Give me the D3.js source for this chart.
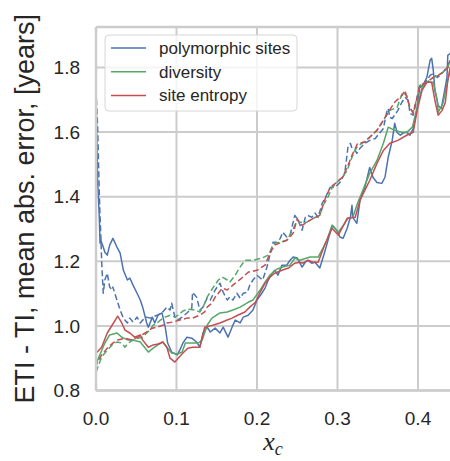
<!DOCTYPE html>
<html>
<head>
<meta charset="utf-8">
<script src="https://cdn.jsdelivr.net/npm/d3@7"></script>
<style>
    html, body { margin: 0; padding: 0; background: #ffffff; }
    svg { display: block; }
</style>
</head>
<body>
<div id="chart"></div>
<script>
// x_c vs. mean abs. error
const polySitesSolid = [[0.000,1.729],[0.002,1.45],[0.004,1.343],[0.005,1.256],[0.006,1.265],[0.009,1.244],[0.011,1.228],[0.014,1.219],[0.017,1.250],[0.021,1.271],[0.026,1.244],[0.030,1.225],[0.034,1.172],[0.039,1.142],[0.042,1.148],[0.046,1.126],[0.051,1.101],[0.055,1.080],[0.058,1.058],[0.063,1.009],[0.065,0.996],[0.070,1.027],[0.073,1.009],[0.077,1.033],[0.082,1.040],[0.086,0.996],[0.089,0.947],[0.094,0.919],[0.101,0.910],[0.104,0.925],[0.108,0.947],[0.113,0.965],[0.119,0.962],[0.125,0.950],[0.129,0.934],[0.133,0.978],[0.138,0.996],[0.142,0.981],[0.148,0.993],[0.154,0.978],[0.158,0.996],[0.164,0.965],[0.169,0.996],[0.173,1.018],[0.179,1.009],[0.183,1.027],[0.189,1.033],[0.195,1.049],[0.200,1.080],[0.206,1.101],[0.210,1.117],[0.214,1.142],[0.219,1.163],[0.222,1.172],[0.226,1.157],[0.231,1.188],[0.237,1.188],[0.241,1.203],[0.245,1.213],[0.250,1.210],[0.256,1.182],[0.260,1.197],[0.263,1.203],[0.268,1.194],[0.272,1.197],[0.278,1.179],[0.281,1.203],[0.284,1.228],[0.291,1.290],[0.294,1.311],[0.299,1.296],[0.303,1.275],[0.307,1.271],[0.312,1.302],[0.316,1.336],[0.318,1.373],[0.319,1.336],[0.324,1.317],[0.328,1.389],[0.334,1.429],[0.340,1.490],[0.344,1.460],[0.349,1.444],[0.355,1.441],[0.359,1.460],[0.363,1.522],[0.368,1.574],[0.371,1.627],[0.374,1.599],[0.378,1.590],[0.381,1.596],[0.386,1.599],[0.390,1.590],[0.394,1.611],[0.399,1.676],[0.402,1.738],[0.406,1.744],[0.411,1.769],[0.415,1.822],[0.417,1.828],[0.419,1.791],[0.421,1.729],[0.425,1.682],[0.429,1.673],[0.432,1.713],[0.436,1.769],[0.437,1.837],[0.440,1.843]];

const polySitesDashed = [[0.000,1.729],[0.002,1.62],[0.004,1.42],[0.005,1.34],[0.006,1.28],[0.007,1.20],[0.009,1.101],[0.011,1.142],[0.014,1.163],[0.017,1.120],[0.020,1.111],[0.021,1.120],[0.026,1.080],[0.030,1.049],[0.034,1.024],[0.039,1.009],[0.042,1.024],[0.046,1.012],[0.051,1.027],[0.055,1.009],[0.058,1.018],[0.063,1.027],[0.067,1.024],[0.076,1.033],[0.082,1.040],[0.088,1.058],[0.092,1.049],[0.094,1.070],[0.098,1.027],[0.101,1.018],[0.107,1.027],[0.113,1.040],[0.119,1.055],[0.120,1.104],[0.125,1.089],[0.129,1.049],[0.133,1.058],[0.138,1.086],[0.142,1.080],[0.148,1.111],[0.154,1.132],[0.158,1.104],[0.163,1.080],[0.166,1.089],[0.170,1.080],[0.175,1.101],[0.179,1.086],[0.183,1.101],[0.188,1.104],[0.191,1.126],[0.195,1.142],[0.200,1.157],[0.204,1.148],[0.207,1.142],[0.212,1.179],[0.216,1.219],[0.220,1.259],[0.225,1.259],[0.229,1.271],[0.232,1.290],[0.237,1.275],[0.241,1.281],[0.247,1.342],[0.251,1.327],[0.256,1.296],[0.260,1.336],[0.263,1.342],[0.268,1.336],[0.272,1.349],[0.276,1.336],[0.281,1.380],[0.284,1.392],[0.291,1.429],[0.297,1.429],[0.303,1.444],[0.309,1.472],[0.313,1.553],[0.316,1.565],[0.318,1.550],[0.322,1.543],[0.324,1.534],[0.328,1.550],[0.334,1.565],[0.340,1.574],[0.347,1.580],[0.350,1.590],[0.357,1.611],[0.361,1.661],[0.363,1.673],[0.365,1.645],[0.368,1.642],[0.371,1.652],[0.375,1.667],[0.380,1.692],[0.384,1.707],[0.388,1.698],[0.390,1.658],[0.394,1.652],[0.399,1.707],[0.402,1.738],[0.406,1.744],[0.411,1.760],[0.415,1.775],[0.419,1.781],[0.424,1.769],[0.427,1.775],[0.431,1.785],[0.436,1.800],[0.440,1.822]];

const diversitySolid = [[0.000,0.879],[0.002,0.894],[0.011,0.947],[0.017,0.972],[0.026,0.978],[0.032,0.965],[0.040,0.956],[0.046,0.956],[0.055,0.950],[0.065,0.919],[0.071,0.931],[0.077,0.941],[0.083,0.950],[0.088,0.934],[0.094,0.916],[0.101,0.913],[0.107,0.919],[0.111,0.947],[0.117,0.947],[0.127,0.947],[0.132,0.956],[0.138,1.002],[0.144,1.024],[0.154,1.040],[0.163,1.043],[0.170,1.049],[0.179,1.058],[0.189,1.073],[0.195,1.080],[0.204,1.111],[0.210,1.135],[0.216,1.157],[0.225,1.176],[0.232,1.182],[0.241,1.188],[0.247,1.210],[0.253,1.203],[0.262,1.210],[0.266,1.213],[0.276,1.213],[0.287,1.265],[0.293,1.311],[0.301,1.290],[0.309,1.317],[0.313,1.333],[0.319,1.336],[0.325,1.380],[0.340,1.472],[0.349,1.512],[0.357,1.565],[0.363,1.615],[0.371,1.605],[0.380,1.599],[0.386,1.599],[0.393,1.615],[0.399,1.676],[0.405,1.738],[0.411,1.754],[0.419,1.754],[0.424,1.698],[0.425,1.661],[0.431,1.689],[0.437,1.760],[0.440,1.791]];

const diversityDashed = [[0.000,0.857],[0.001,0.863],[0.007,0.904],[0.014,0.925],[0.020,0.941],[0.026,0.950],[0.032,0.947],[0.036,0.934],[0.040,0.947],[0.046,0.956],[0.052,0.962],[0.058,0.965],[0.063,0.978],[0.067,0.987],[0.071,1.002],[0.076,1.009],[0.080,1.018],[0.086,1.027],[0.092,1.033],[0.098,1.027],[0.102,1.033],[0.108,1.046],[0.114,1.052],[0.123,1.049],[0.129,1.043],[0.133,1.058],[0.138,1.089],[0.145,1.117],[0.152,1.142],[0.157,1.151],[0.163,1.142],[0.166,1.135],[0.173,1.157],[0.179,1.182],[0.185,1.203],[0.195,1.203],[0.206,1.210],[0.214,1.219],[0.219,1.244],[0.222,1.256],[0.229,1.259],[0.237,1.265],[0.243,1.290],[0.250,1.327],[0.253,1.321],[0.262,1.321],[0.270,1.333],[0.278,1.342],[0.282,1.373],[0.287,1.392],[0.293,1.426],[0.299,1.444],[0.306,1.460],[0.312,1.481],[0.318,1.522],[0.324,1.553],[0.330,1.565],[0.340,1.584],[0.349,1.605],[0.359,1.645],[0.365,1.667],[0.374,1.676],[0.381,1.723],[0.386,1.713],[0.390,1.676],[0.394,1.661],[0.399,1.707],[0.402,1.744],[0.411,1.754],[0.419,1.769],[0.425,1.775],[0.431,1.785],[0.437,1.800],[0.440,1.822]];

const siteEntropySolid = [[0.000,0.915],[0.007,0.934],[0.014,0.978],[0.020,1.002],[0.027,1.030],[0.032,1.009],[0.036,0.987],[0.042,0.978],[0.048,0.965],[0.055,0.972],[0.058,0.956],[0.065,0.934],[0.071,0.941],[0.077,0.944],[0.083,0.950],[0.088,0.934],[0.092,0.900],[0.098,0.888],[0.102,0.900],[0.108,0.916],[0.114,0.931],[0.120,0.934],[0.129,0.934],[0.135,0.996],[0.145,1.002],[0.154,1.009],[0.163,1.018],[0.169,1.024],[0.176,1.033],[0.185,1.043],[0.191,1.058],[0.198,1.073],[0.204,1.104],[0.210,1.132],[0.216,1.151],[0.222,1.163],[0.231,1.172],[0.239,1.179],[0.247,1.194],[0.253,1.197],[0.257,1.194],[0.263,1.203],[0.270,1.197],[0.276,1.197],[0.284,1.250],[0.293,1.302],[0.301,1.281],[0.312,1.333],[0.322,1.336],[0.328,1.389],[0.340,1.450],[0.349,1.503],[0.357,1.543],[0.365,1.565],[0.375,1.574],[0.386,1.590],[0.394,1.599],[0.399,1.667],[0.405,1.729],[0.411,1.754],[0.417,1.754],[0.421,1.698],[0.425,1.652],[0.430,1.667],[0.434,1.692],[0.437,1.760],[0.440,1.800]];

const siteEntropyDashed = [[0.000,0.870],[0.001,0.885],[0.007,0.910],[0.015,0.934],[0.021,0.947],[0.027,0.956],[0.036,0.962],[0.045,0.956],[0.052,0.965],[0.061,0.978],[0.070,0.993],[0.076,0.996],[0.083,1.002],[0.088,1.009],[0.096,1.012],[0.104,1.018],[0.113,1.024],[0.120,1.024],[0.129,1.033],[0.135,1.043],[0.138,1.058],[0.144,1.070],[0.148,1.089],[0.152,1.101],[0.157,1.117],[0.163,1.111],[0.170,1.126],[0.181,1.148],[0.189,1.166],[0.200,1.172],[0.210,1.188],[0.216,1.225],[0.222,1.250],[0.231,1.259],[0.237,1.265],[0.241,1.275],[0.245,1.287],[0.250,1.333],[0.251,1.327],[0.256,1.311],[0.262,1.321],[0.270,1.333],[0.278,1.342],[0.284,1.389],[0.291,1.429],[0.299,1.444],[0.306,1.460],[0.312,1.490],[0.318,1.528],[0.325,1.565],[0.334,1.568],[0.340,1.584],[0.349,1.605],[0.357,1.636],[0.363,1.661],[0.371,1.692],[0.380,1.713],[0.384,1.729],[0.386,1.707],[0.390,1.676],[0.394,1.658],[0.399,1.707],[0.402,1.744],[0.411,1.754],[0.419,1.769],[0.425,1.775],[0.431,1.785],[0.437,1.800],[0.440,1.822]];

const legendLabels = ["polymorphic sites", "diversity", "site entropy"];
const seriesColors = ["#4c72b0", "#55a868", "#c44e52"];
const xTicks = [0.0, 0.1, 0.2, 0.3, 0.4];
const yTicks = [0.8, 1.0, 1.2, 1.4, 1.6, 1.8];
const xDomain = [0, 0.445];
const yDomain = [0.8, 1.925];

class ErrorChart {
    constructor(proportions) {
        this.proportions = proportions;
        this.#createScales();
        this.#createSVG();
        this.#drawGrid();
        this.#drawLines();
        this.#drawSpines();
        this.#drawTickLabels();
        this.#drawAxisLabels();
        this.#drawLegend();
    }
    #createScales() {
        const p = this.proportions;
        this.x = d3.scaleLinear().domain(xDomain).range([p.left, p.left + p.plotWidth]);
        this.y = d3.scaleLinear().domain(yDomain).range([p.bottom, p.top]);
    }
    #createSVG() {
        this.svg = d3.select('#chart').append("svg")
            .attr("width", this.proportions.width)
            .attr("height", this.proportions.height);
        this.svg.append("clipPath").attr("id", "plot-clip")
            .append("rect")
            .attr("x", this.x.range()[0])
            .attr("y", this.proportions.top)
            .attr("width", this.x.range()[1] - this.x.range()[0])
            .attr("height", this.proportions.bottom - this.proportions.top);
    }
    #drawGrid() {
        const g = this.svg.append("g").attr("class", "grid");
        g.selectAll("line.gx").data(xTicks).enter().append("line")
            .attr("x1", d => this.x(d)).attr("x2", d => this.x(d))
            .attr("y1", this.proportions.top).attr("y2", this.proportions.bottom)
            .attr("stroke", "#cccccc").attr("stroke-width", 2);
        g.selectAll("line.gy").data(yTicks).enter().append("line")
            .attr("y1", d => this.y(d)).attr("y2", d => this.y(d))
            .attr("x1", this.x.range()[0]).attr("x2", this.x.range()[1])
            .attr("stroke", "#cccccc").attr("stroke-width", 2);
    }
    #drawLines() {
        const line = d3.line().x(d => this.x(d[0])).y(d => this.y(d[1]));
        const series = [
            { data: polySitesSolid, color: seriesColors[0], dash: null },
            { data: polySitesDashed, color: seriesColors[0], dash: "6,3" },
            { data: diversitySolid, color: seriesColors[1], dash: null },
            { data: diversityDashed, color: seriesColors[1], dash: "6,3" },
            { data: siteEntropySolid, color: seriesColors[2], dash: null },
            { data: siteEntropyDashed, color: seriesColors[2], dash: "6,3" }
        ];
        this.svg.append("g")
            .attr("clip-path", "url(#plot-clip)")
            .selectAll("path")
            .data(series)
            .enter()
            .append("path")
            .attr("d", d => line(d.data))
            .attr("fill", "none")
            .attr("stroke", d => d.color)
            .attr("stroke-width", 1.5)
            .attr("stroke-linejoin", "round")
            .attr("stroke-dasharray", d => d.dash);
    }
    #drawSpines() {
        const p = this.proportions;
        const g = this.svg.append("g").attr("stroke", "#cccccc").attr("stroke-width", 2.5);
        g.append("line").attr("x1", p.left).attr("x2", p.left).attr("y1", p.top).attr("y2", p.bottom);
        g.append("line").attr("x1", p.left).attr("x2", p.width + 5).attr("y1", p.bottom).attr("y2", p.bottom);
        g.append("line").attr("x1", p.left).attr("x2", p.width + 5).attr("y1", p.top).attr("y2", p.top);
    }
    #drawTickLabels() {
        const fmt = d3.format(".1f");
        const font = "'Liberation Sans', Arial, sans-serif";
        this.svg.append("g").selectAll("text").data(xTicks).enter().append("text")
            .attr("x", d => this.x(d)).attr("y", 425)
            .attr("text-anchor", "middle")
            .attr("font-family", font).attr("font-size", 19)
            .attr("fill", "#262626")
            .text(d => fmt(d));
        this.svg.append("g").selectAll("text").data(yTicks).enter().append("text")
            .attr("x", 80).attr("y", d => this.y(d))
            .attr("dy", "0.35em")
            .attr("text-anchor", "end")
            .attr("font-family", font).attr("font-size", 19)
            .attr("fill", "#262626")
            .text(d => fmt(d));
    }
    #drawAxisLabels() {
        const p = this.proportions;
        this.svg.append("text")
            .attr("transform", "translate(34," + ((p.top + p.bottom) / 2) + ") rotate(-90)")
            .attr("text-anchor", "middle")
            .attr("font-family", "'Liberation Sans', Arial, sans-serif")
            .attr("font-size", 27)
            .attr("fill", "#262626")
            .text("ETI - TI, mean abs. error, [years]");
        const xl = this.svg.append("text")
            .attr("x", 273).attr("y", 450)
            .attr("text-anchor", "middle")
            .attr("font-family", "'Liberation Serif', 'DejaVu Serif', serif")
            .attr("font-style", "italic")
            .attr("font-size", 26)
            .attr("fill", "#262626");
        xl.append("tspan").text("x");
        xl.append("tspan").attr("font-size", 18).attr("dy", 5).text("c");
    }
    #drawLegend() {
        const g = this.svg.append("g");
        g.append("rect")
            .attr("x", 105).attr("y", 35)
            .attr("width", 192).attr("height", 76)
            .attr("rx", 4)
            .attr("fill", "#ffffff").attr("fill-opacity", 0.8)
            .attr("stroke", "#d6d6d6").attr("stroke-width", 1);
        const rows = g.selectAll("g.row").data(legendLabels).enter().append("g")
            .attr("transform", (d, i) => "translate(0," + (48 + i * 23.7) + ")");
        rows.append("line")
            .attr("x1", 111).attr("x2", 146)
            .attr("y1", 0).attr("y2", 0)
            .attr("stroke", (d, i) => seriesColors[i])
            .attr("stroke-width", 1.5);
        rows.append("text")
            .attr("x", 159).attr("y", 0).attr("dy", "0.35em")
            .attr("font-family", "'Liberation Sans', Arial, sans-serif")
            .attr("font-size", 17)
            .attr("fill", "#262626")
            .text(d => d);
    }
}

new ErrorChart({ width: 450, height: 461, left: 96, top: 27, bottom: 390.5, plotWidth: 0.445 * 805 });
</script>
</body>
</html>
